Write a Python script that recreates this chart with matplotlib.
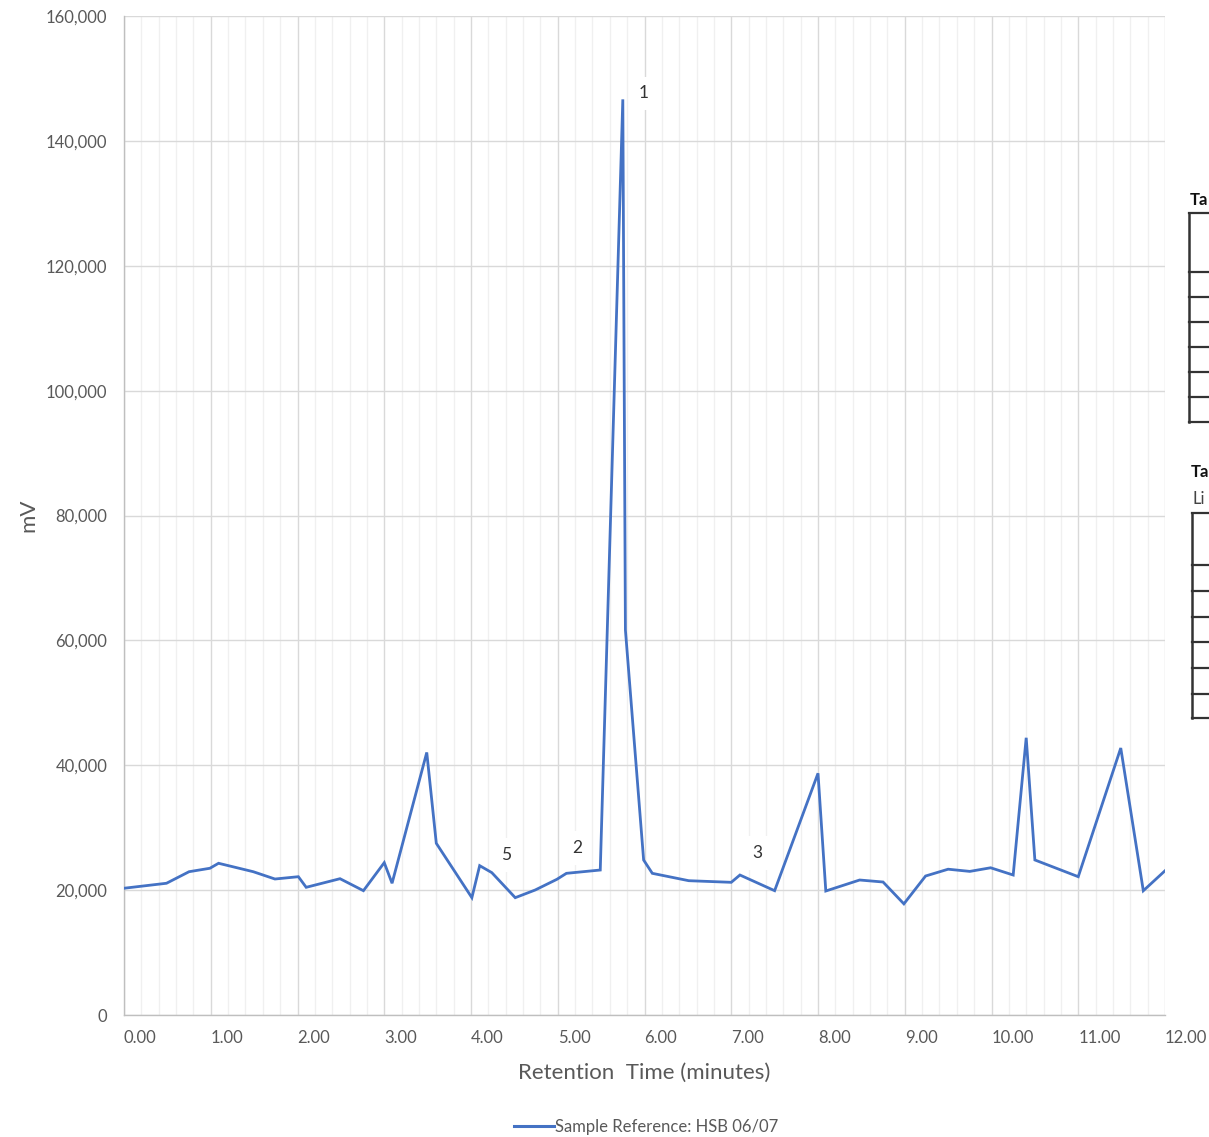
import matplotlib
matplotlib.use('Agg')
import matplotlib.pyplot as plt
from matplotlib.ticker import MultipleLocator, FuncFormatter
from matplotlib.lines import Line2D

plt.rcParams['font.family'] = ['Lato', 'DejaVu Sans']

# retention time (minutes) and detector signal (mV)
rt = [0.00, 0.49, 0.75, 0.99, 1.09, 1.49, 1.74, 2.01, 2.10, 2.49, 2.76, 3.00,
      3.09, 3.49, 3.60, 4.01, 4.10, 4.24, 4.51, 4.74, 4.99, 5.10, 5.49, 5.75,
      5.78, 5.99, 6.09, 6.51, 7.00, 7.10, 7.50, 8.00, 8.09, 8.48, 8.75, 8.99,
      9.24, 9.50, 9.75, 9.99, 10.25, 10.40, 10.50, 11.00, 11.49, 11.75, 12.00]
mv = [20300, 21100, 22950, 23500, 24300, 22950, 21780, 22150, 20450, 21830,
      19910, 24400, 21100, 42050, 27500, 18790, 23920, 22800, 18790, 20020,
      21730, 22690, 23220, 146650, 61660, 24820, 22690, 21510, 21250, 22420,
      19910, 38710, 19860, 21620, 21300, 17800, 22260, 23350, 23000, 23580,
      22420, 44400, 24830, 22150, 42760, 19900, 23100]

peak_labels = ['1', '5', '2', '3']
peak_x = [5.99, 4.41, 5.23, 7.30]
peak_y = [147600, 25600, 26750, 25950]

series_name = 'Sample Reference: HSB 06/07'

fig = plt.figure(figsize=(12.09, 11.37), dpi=100)
ax = fig.add_axes([124 / 1209, 1 - 1015 / 1137, (1165 - 124) / 1209, (1015 - 16) / 1137])

ax.plot(rt, mv, color='#4472C4', lw=2.0, solid_joinstyle='miter', zorder=3)

for lab, px, py in zip(peak_labels, peak_x, peak_y):
    ax.text(px, py, lab, ha='center', va='center', fontsize=12.5, color='#333333',
            bbox=dict(boxstyle='square,pad=0.5', fc='white', ec='none'), zorder=4)

ax.set_xlim(0, 12)
ax.set_ylim(0, 160000)
ax.xaxis.set_major_locator(MultipleLocator(1))
ax.xaxis.set_minor_locator(MultipleLocator(0.2))
ax.yaxis.set_major_locator(MultipleLocator(20000))
ax.xaxis.set_major_formatter(FuncFormatter(lambda v, p: f'{v:.2f}'))
ax.yaxis.set_major_formatter(FuncFormatter(lambda v, p: f'{v:,.0f}'))

ax.grid(which='major', color='#d9d9d9', lw=1.0, zorder=0)
ax.grid(which='minor', axis='x', color='#f0f0f0', lw=1.0, zorder=0)
ax.set_axisbelow(True)

for s in ['top', 'right']:
    ax.spines[s].set_visible(False)
for s in ['left', 'bottom']:
    ax.spines[s].set_color('#bfbfbf')
    ax.spines[s].set_linewidth(1.0)

ax.tick_params(which='both', length=0, labelsize=12, labelcolor='#595959')
ax.tick_params(axis='x', pad=11)
ax.tick_params(axis='y', pad=12)
for t in ax.get_xticklabels():
    t.set_horizontalalignment('left')

ax.set_xlabel('Retention  Time (minutes)', fontsize=16, color='#595959', labelpad=12)
ax.set_ylabel('mV', fontsize=16, color='#595959', va='center')
ax.yaxis.set_label_coords((28 - 124) / 1041, 0.5)

handle = Line2D([], [], color='#4472C4', lw=2.2)
fig.legend([handle], [series_name], loc='center', bbox_to_anchor=(646 / 1209, 1 - 1127 / 1137),
           frameon=False, fontsize=12, handlelength=2.4, handletextpad=0.1,
           labelcolor='#595959')

# spreadsheet tables cut off at the right edge
def fy(py):
    return 1 - py / 1137

tab1_lines = [213, 272, 297, 322, 347, 372, 397, 422]
tab2_lines = [513, 565, 591, 617, 642, 668, 694, 718]
for xl, rows in [(1189, tab1_lines), (1192, tab2_lines)]:
    fig.add_artist(Line2D([xl / 1209, xl / 1209], [fy(rows[0]), fy(rows[-1])],
                          color='#333333', lw=1.8))
    for r in rows:
        fig.add_artist(Line2D([xl / 1209, 1.0], [fy(r), fy(r)], color='#333333', lw=1.6))

fig.text(1190 / 1209, fy(200), 'Ta', fontsize=12, fontweight='bold', color='#111111',
         va='center', ha='left')
fig.text(1191 / 1209, fy(472), 'Ta', fontsize=12, fontweight='bold', color='#111111',
         va='center', ha='left')
fig.text(1193 / 1209, fy(499), 'Li', fontsize=12, color='#444444', va='center', ha='left')

plt.savefig('out.png', dpi=100)
